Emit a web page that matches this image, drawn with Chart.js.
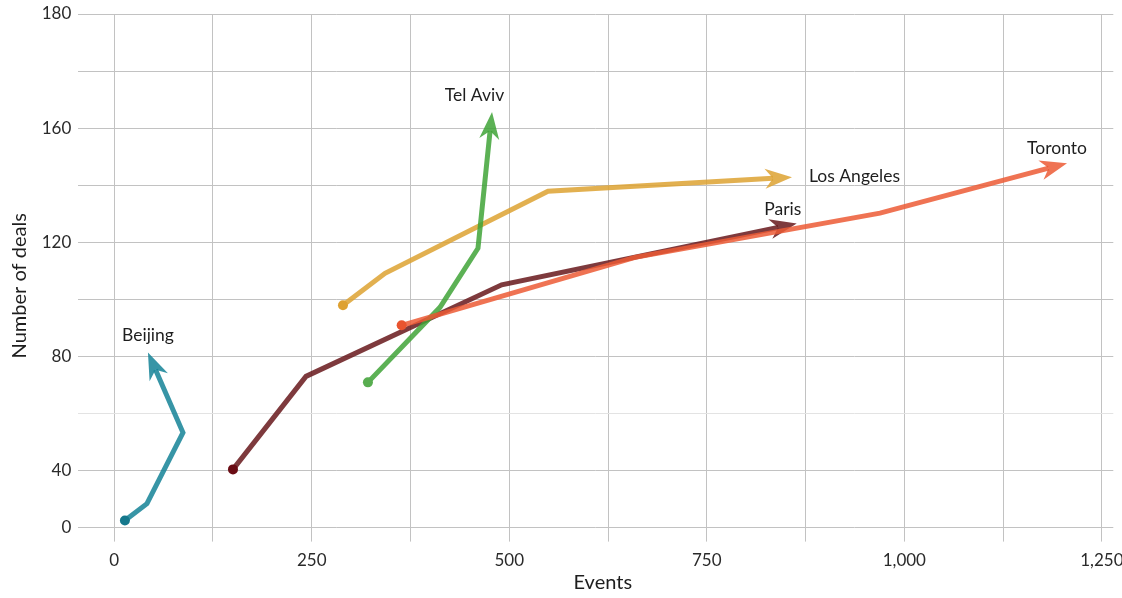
<!DOCTYPE html>
<html>
<head>
<meta charset="utf-8">
<script src="https://cdn.jsdelivr.net/npm/chart.js@4.4.1/dist/chart.umd.min.js"></script>
<style>
html,body{margin:0;padding:0;background:#ffffff;}
#wrap{width:1122px;height:598px;position:relative;}
</style>
</head>
<body>
<div id="wrap"><canvas id="c" width="1122" height="598"></canvas></div>
<script>
// ---- data ----
const cities = ['Toronto', 'Tel Aviv', 'Los Angeles', 'Paris', 'Beijing'];

const torontoEvents = [363.8, 659.1, 969.2, 1182.7];
const torontoDeals  = [90.9, 114.7, 130.2, 146.0];

const telAvivEvents = [321.1, 412.3, 460.4, 475.7];
const telAvivDeals  = [70.9, 97.2, 117.9, 159.0];

const losAngelesEvents = [289.5, 342.7, 549.0, 833.8];
const losAngelesDeals  = [97.9, 109.1, 137.9, 142.4];

const parisEvents = [150.3, 242.7, 490.4, 840.3];
const parisDeals  = [40.4, 73.0, 105.1, 125.2];

const beijingEvents = [13.5, 41.4, 87.0, 52.3];
const beijingDeals  = [22.5, 28.4, 53.3, 75.3];

// tick values and labels
const xGridValues  = [0, 125, 250, 375, 500, 625, 750, 875, 1000, 1125, 1250];
const xLabelValues = [0, 250, 500, 750, 1000, 1250];
const xLabelTexts  = ['0', '250', '500', '750', '1,000', '1,250'];

const yGridValues  = [20, 40, 60, 80, 100, 120, 140, 160, 180, 200];
const yLabelValues = [20, 40, 80, 120, 160, 200];
const yLabelTexts  = ['0', '40', '80', '120', '160', '180'];

// ---- styles ----
const lineColors = ['rgba(236,90,53,0.85)', 'rgba(63,163,55,0.85)', 'rgba(221,162,49,0.85)', 'rgba(103,23,27,0.85)', 'rgba(20,131,151,0.85)'];
const dotColors  = ['#e9542f', '#58ad50', '#dea131', '#6a0c14', '#15788c'];
const labelStyle = {
  'Toronto':     {dx: -10,  dy: -9,   align: 'center'},
  'Tel Aviv':    {dx: -17.5, dy: -11, align: 'center'},
  'Los Angeles': {dx: 17,   dy: 5,    align: 'left'},
  'Paris':       {dx: -14,  dy: -8.3, align: 'center'},
  'Beijing':     {dx: 0,    dy: -11.3, align: 'center'}
};
const FONT = 'Lato, "Open Sans", sans-serif';

function pts(xs, ys) { return xs.map((x, i) => ({x: x, y: ys[i]})); }
const seriesData = [
  pts(torontoEvents, torontoDeals),
  pts(telAvivEvents, telAvivDeals),
  pts(losAngelesEvents, losAngelesDeals),
  pts(parisEvents, parisDeals),
  pts(beijingEvents, beijingDeals)
];

const ARROW_LEN = 27, ARROW_HALF = 10, ARROW_NOTCH = 19;

function arrowTip(meta) {
  const p = meta.data;
  const a = p[p.length - 2], b = p[p.length - 1];
  const dx = b.x - a.x, dy = b.y - a.y;
  const len = Math.hypot(dx, dy) || 1;
  const ux = dx / len, uy = dy / len;
  return {x: b.x + ux * ARROW_NOTCH, y: b.y + uy * ARROW_NOTCH, ux: ux, uy: uy};
}

const arrowPlugin = {
  id: 'arrows',
  afterDatasetDraw(chart, args) {
    const meta = args.meta;
    const ds = chart.data.datasets[args.index];
    const t = arrowTip(meta);
    const px = -t.uy, py = t.ux;
    const ctx = chart.ctx;
    ctx.save();
    ctx.fillStyle = ds.borderColor;
    ctx.beginPath();
    ctx.moveTo(t.x, t.y);
    ctx.lineTo(t.x - t.ux * ARROW_LEN + px * ARROW_HALF, t.y - t.uy * ARROW_LEN + py * ARROW_HALF);
    ctx.lineTo(t.x - t.ux * ARROW_NOTCH, t.y - t.uy * ARROW_NOTCH);
    ctx.lineTo(t.x - t.ux * ARROW_LEN - px * ARROW_HALF, t.y - t.uy * ARROW_LEN - py * ARROW_HALF);
    ctx.closePath();
    ctx.fill();
    ctx.restore();
  },
  afterDatasetsDraw(chart) {
    const ctx = chart.ctx;
    ctx.save();
    ctx.font = '17.5px ' + FONT;
    ctx.fillStyle = '#1e1e1e';
    ctx.textBaseline = 'alphabetic';
    chart.data.datasets.forEach((ds, i) => {
      const t = arrowTip(chart.getDatasetMeta(i));
      const st = labelStyle[ds.label];
      ctx.textAlign = st.align;
      ctx.fillText(ds.label, t.x + st.dx, t.y + st.dy);
    });
    ctx.restore();
  }
};

const titlePlugin = {
  id: 'axisTitles',
  afterDraw(chart) {
    const ctx = chart.ctx, a = chart.chartArea;
    ctx.save();
    ctx.font = '20px ' + FONT;
    ctx.fillStyle = '#1e1e1e';
    ctx.textBaseline = 'alphabetic';
    ctx.textAlign = 'center';
    ctx.fillText('Events', (a.left + a.right) / 2 + 7, a.bottom + 61);
    ctx.translate(25.5, (a.top + a.bottom) / 2 + 15);
    ctx.rotate(-Math.PI / 2);
    ctx.fillText('Number of deals', 0, 0);
    ctx.restore();
  }
};

new Chart(document.getElementById('c'), {
  type: 'line',
  data: {
    datasets: cities.map((name, i) => ({
      label: name,
      data: seriesData[i],
      borderColor: lineColors[i],
      borderWidth: 5,
      fill: false,
      tension: 0,
      clip: false,
      pointRadius: ctx => ctx.dataIndex === 0 ? 5 : 0,
      pointHoverRadius: 0,
      pointBorderWidth: 0,
      pointBackgroundColor: dotColors[i],
      pointBorderColor: dotColors[i]
    }))
  },
  options: {
    responsive: false,
    devicePixelRatio: 1,
    animation: false,
    events: [],
    layout: {padding: {left: 34.7, right: 8.7, top: 14, bottom: 18}},
    plugins: {legend: {display: false}, tooltip: {enabled: false}},
    scales: {
      x: {
        type: 'linear',
        min: -45.5,
        max: 1264.5,
        afterBuildTicks: s => { s.ticks = xGridValues.map(v => ({value: v})); },
        afterFit: s => { s.paddingLeft = 0; s.paddingRight = 0; },
        border: {display: false},
        grid: {color: '#c2c2c2', lineWidth: 1, drawTicks: true, tickLength: 14},
        ticks: {
          autoSkip: false, maxRotation: 0, padding: 9,
          color: '#2a2a2a', font: {family: FONT, size: 17},
          callback: v => { const k = xLabelValues.indexOf(v); return k >= 0 ? xLabelTexts[k] : ''; }
        },
        title: {display: false}
      },
      y: {
        type: 'linear',
        min: 20,
        max: 200,
        afterBuildTicks: s => { s.ticks = yGridValues.map(v => ({value: v})); },
        afterFit: s => { s.paddingTop = 0; s.paddingBottom = 0; },
        border: {display: false},
        grid: {
          color: ctx => (ctx.tick && ctx.tick.value === 60) ? '#e3e3e3' : '#c2c2c2',
          lineWidth: 1, drawTicks: false
        },
        ticks: {
          autoSkip: false, padding: 7,
          color: '#2a2a2a', font: {family: FONT, size: 17},
          callback: v => { const k = yLabelValues.indexOf(v); return k >= 0 ? yLabelTexts[k] : ''; }
        },
        title: {display: false}
      }
    }
  },
  plugins: [arrowPlugin, titlePlugin]
});
</script>
</body>
</html>
